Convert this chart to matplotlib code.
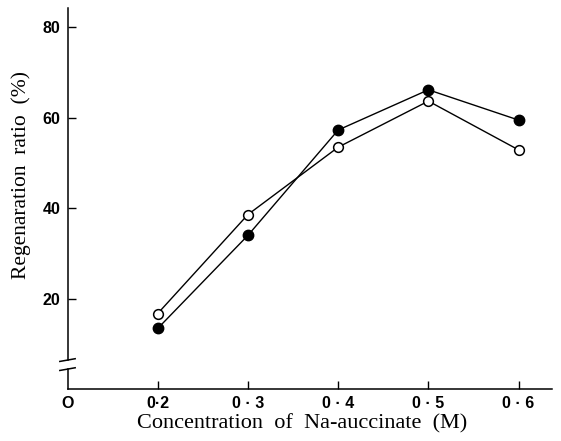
import matplotlib
matplotlib.use("Agg")
import matplotlib.pyplot as plt

conc = [0.2, 0.3, 0.4, 0.5, 0.6]
filled_vals = [13.4, 34.0, 57.3, 66.2, 59.5]
open_vals = [16.7, 38.6, 53.5, 63.7, 52.9]
xtick_vals = [0.1, 0.2, 0.3, 0.4, 0.5, 0.6]
xtick_labels = ["O", "0·2", "0 · 3", "0 · 4", "0 · 5", "0 · 6"]
ytick_vals = [20, 40, 60, 80]
ytick_labels = ["20", "40", "60", "80"]

fig = plt.figure(figsize=(5.61, 4.41), dpi=100)
ax = fig.add_axes([67.5/561, 1-389/441, (552-67.5)/561, (389-8)/441])

ax.plot(conc, filled_vals, color="black", lw=1.0, marker="o", ms=7.5,
        mfc="black", mec="black", zorder=3, clip_on=False)
ax.plot(conc, open_vals, color="black", lw=1.0, marker="o", ms=7,
        mfc="white", mec="black", mew=1.1, zorder=4, clip_on=False)

ax.set_xlim(0.1, 0.637)
ax.set_ylim(0, 84.3)

for s in ["top", "right"]:
    ax.spines[s].set_visible(False)
ax.spines["left"].set_visible(False)
ax.spines["bottom"].set_linewidth(1.1)

# y axis drawn with a break
brk_lo, brk_hi = 4.4, 6.4
ax.plot([0.1, 0.1], [0, brk_lo], color="black", lw=1.1, clip_on=False, zorder=5)
ax.plot([0.1, 0.1], [brk_hi, 84.3], color="black", lw=1.1, clip_on=False, zorder=5)
dx = 0.0085
for yb in (brk_lo, brk_hi):
    ax.plot([0.1 - dx, 0.1 + dx], [yb - 0.3, yb + 0.3], color="black",
            lw=1.1, clip_on=False, zorder=5)

ax.set_xticks(xtick_vals)
ax.set_xticklabels(xtick_labels)
ax.set_yticks(ytick_vals)
ax.set_yticklabels(ytick_labels)
ax.tick_params(axis="both", direction="in", length=6, width=1.0, pad=5,
               labelsize=11.5)
for lbl in ax.get_xticklabels() + ax.get_yticklabels():
    lbl.set_fontfamily("Liberation Sans")
    lbl.set_fontweight("bold")
ax.xaxis.get_major_ticks()[0].tick1line.set_visible(False)

ax.set_xlabel("Concentration  of  Na-auccinate  (M)", family="Liberation Serif",
              fontsize=16)
ax.set_ylabel("Regenaration  ratio  (%)", family="Liberation Serif",
              fontsize=15.5)
ax.xaxis.set_label_coords(0.485, -0.066)
ax.yaxis.set_label_coords(-0.075, 0.562)

fig.savefig("out.png", dpi=100)
